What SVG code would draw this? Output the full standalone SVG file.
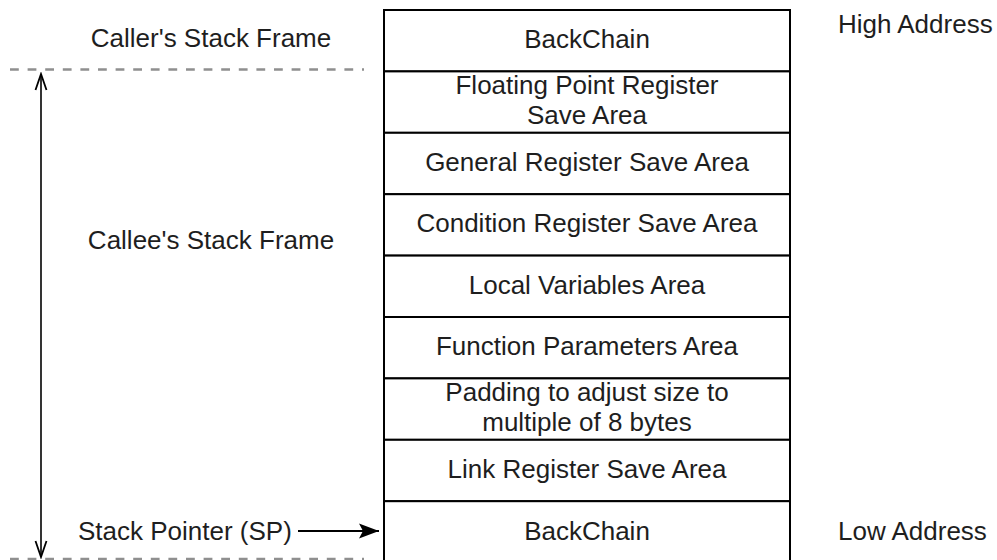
<svg xmlns="http://www.w3.org/2000/svg" width="997" height="560" viewBox="0 0 997 560">
  <style>
    text { font-family: "Liberation Sans", Arial, sans-serif; font-size: 26px; fill: #1e1e1e; }
    .c { text-anchor: middle; }
    .cell { fill: #ffffff; stroke: #000000; stroke-width: 2; }
    .boundary { stroke: #8f8f8f; stroke-width: 2.6; stroke-dasharray: 8.8 8.8; fill: none; }
    .span { stroke: #000000; stroke-width: 1.6; fill: none; }
    .ptr { stroke: #000000; stroke-width: 1.8; fill: none; }
  </style>
  <defs>
    <marker id="open" viewBox="0 0 20 14" refX="18" refY="7" markerWidth="20" markerHeight="14" markerUnits="userSpaceOnUse" orient="auto-start-reverse">
      <path d="M2,1.5 L18,7 L2,12.5" fill="none" stroke="#000" stroke-width="1.8"/>
    </marker>
    <marker id="solid" viewBox="0 0 22 18" refX="21" refY="9" markerWidth="22" markerHeight="18" markerUnits="userSpaceOnUse" orient="auto">
      <path d="M1,1.5 L21,9 L1,16.5 L5,9 Z" fill="#000"/>
    </marker>
  </defs>

  <rect width="997" height="560" fill="#ffffff"/>

  <!-- stack frame cells, highest address at the top -->
  <g id="cell-backchain-caller">
    <rect class="cell" x="384" y="10" width="406" height="61.4"/>
    <text class="c" x="587" y="47.5">BackChain</text>
  </g>
  <g id="cell-fpr-save">
    <rect class="cell" x="384" y="71.4" width="406" height="61.4"/>
    <text class="c" x="587" y="93.5">Floating Point Register</text>
    <text class="c" x="587" y="123.5">Save Area</text>
  </g>
  <g id="cell-gpr-save">
    <rect class="cell" x="384" y="132.8" width="406" height="61.4"/>
    <text class="c" x="587" y="170.8">General Register Save Area</text>
  </g>
  <g id="cell-cr-save">
    <rect class="cell" x="384" y="194.2" width="406" height="61.4"/>
    <text class="c" x="587" y="232.2">Condition Register Save Area</text>
  </g>
  <g id="cell-locals">
    <rect class="cell" x="384" y="255.6" width="406" height="61.4"/>
    <text class="c" x="587" y="293.6">Local Variables Area</text>
  </g>
  <g id="cell-params">
    <rect class="cell" x="384" y="317" width="406" height="61.4"/>
    <text class="c" x="587" y="355">Function Parameters Area</text>
  </g>
  <g id="cell-padding">
    <rect class="cell" x="384" y="378.4" width="406" height="61.4"/>
    <text class="c" x="587" y="400.5">Padding to adjust size to</text>
    <text class="c" x="587" y="431">multiple of 8 bytes</text>
  </g>
  <g id="cell-lr-save">
    <rect class="cell" x="384" y="439.8" width="406" height="61.4"/>
    <text class="c" x="587" y="478">Link Register Save Area</text>
  </g>
  <g id="cell-backchain-callee">
    <rect class="cell" x="384" y="501.2" width="406" height="64"/>
    <text class="c" x="587" y="539.5">BackChain</text>
  </g>

  <!-- side labels -->
  <g id="label-caller">
    <text class="c" x="211" y="47">Caller's Stack Frame</text>
  </g>
  <g id="label-callee">
    <text class="c" x="211" y="249">Callee's Stack Frame</text>
  </g>
  <g id="label-sp">
    <text x="78" y="540">Stack Pointer (SP)</text>
  </g>
  <g id="label-high">
    <text x="838" y="32.5">High Address</text>
  </g>
  <g id="label-low">
    <text x="838" y="540">Low Address</text>
  </g>

  <!-- frame boundaries and connectors -->
  <g id="connectors">
    <line class="boundary" x1="10" y1="69.5" x2="364" y2="69.5"/>
    <line class="boundary" x1="10" y1="559" x2="364" y2="559"/>
    <line class="span" x1="41" y1="74" x2="41" y2="557" marker-start="url(#open)" marker-end="url(#open)"/>
    <line class="ptr" x1="298" y1="531" x2="379" y2="531" marker-end="url(#solid)"/>
  </g>
</svg>
